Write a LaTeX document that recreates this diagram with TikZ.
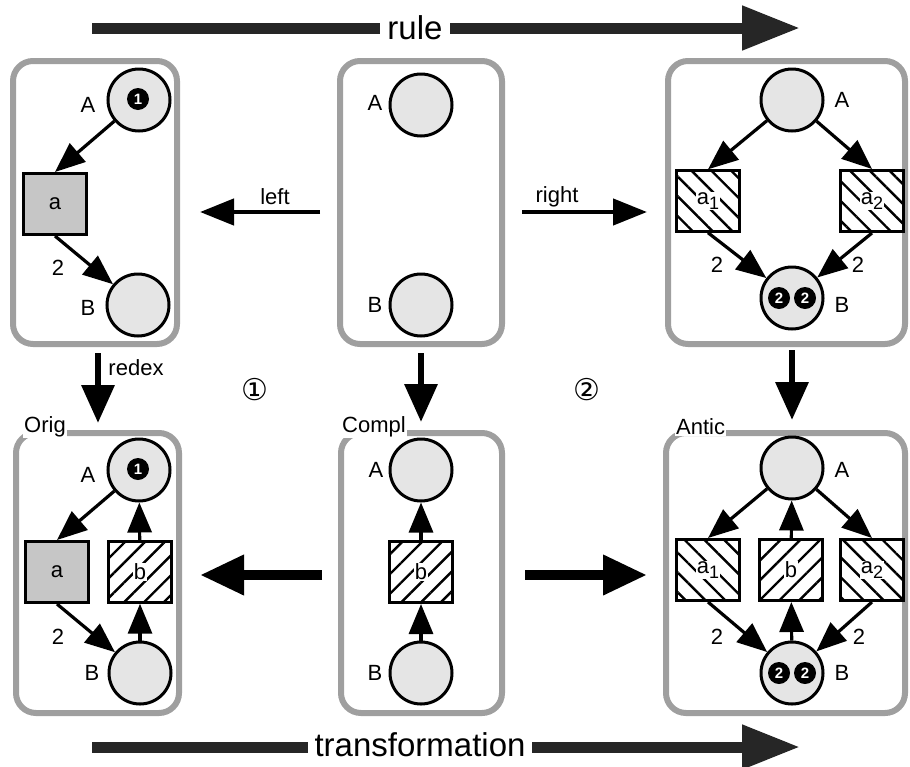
\documentclass[tikz,border=0pt]{standalone}
\usepackage{fontspec}
\setmainfont{Liberation Sans}
\newfontfamily\symfont{DejaVu Sans}
\usetikzlibrary{arrows.meta,patterns.meta}
\newcommand\subidx[1]{\raisebox{-5pt}{\fontsize{18}{18}\selectfont #1}}

\begin{document}
\begin{tikzpicture}[x=1pt,y=-1pt,
  every node/.style={font=\fontsize{22}{22}\selectfont},
  panel/.style={draw=gray!75, line width=6pt, rounded corners=20pt, inner sep=0pt, outer sep=0pt},
  place/.style={circle, draw, line width=3pt, fill=gray!20, minimum size=62pt, inner sep=0pt},
  trans/.style={rectangle, draw, line width=3pt, minimum width=63pt, minimum height=61pt, inner sep=0pt},
  plaintrans/.style={trans, fill=gray!45},
  hatchdown/.style={trans, pattern={Lines[angle=-45,distance=14pt,line width=2.4pt]}},
  hatchup/.style={trans, pattern={Lines[angle=45,distance=14pt,line width=2.4pt]}},
  translbl/.style={fill=white, inner sep=1pt},
  tok/.style={circle, fill=black, inner sep=0pt, minimum size=22pt, text=white,
    font=\fontsize{15}{15}\selectfont\bfseries},
  pnarc/.style={line width=3.2pt, -{Triangle[length=30pt,width=24pt]}},
  flow/.style={line width=4.5pt, -{Triangle[length=34pt,width=26pt]}},
  down/.style={line width=6.5pt, -{Triangle[length=38pt,width=32pt]}},
  bigflow/.style={line width=10pt, -{Triangle[length=44pt,width=38pt]}},
  banner/.style={draw=black!85, line width=11pt, -{Triangle[length=58pt,width=42pt]}},
  bannertext/.style={fill=white, inner xsep=7pt, inner ysep=0pt, font=\fontsize{33}{33}\selectfont},
  tag/.style={fill=white, inner sep=1pt, anchor=west},
  circled/.style={font=\symfont\fontsize{30}{30}\selectfont}
]
\useasboundingbox (0,0) rectangle (910,766);

% ---------- rule arrow ----------
\coordinate (ruleS) at (92,28);
\coordinate (ruleE) at (800,28);
\draw[banner] (ruleS) -- (ruleE);
\node[bannertext] (ruleT) at (415,28) {rule};

% ---------- panels ----------
\node[panel, minimum width=164pt, minimum height=283pt] (tlBox) at (95,202.5) {};
\node[panel, minimum width=162pt, minimum height=283pt] (tmBox) at (421,202.5) {};
\node[panel, minimum width=237pt, minimum height=283pt] (trBox) at (786.5,202.5) {};
\node[panel, minimum width=163pt, minimum height=280pt] (blBox) at (97.5,573) {};
\node[panel, minimum width=161pt, minimum height=280pt] (bmBox) at (421.5,573) {};
\node[panel, minimum width=239pt, minimum height=280pt] (brBox) at (785.5,573) {};

\node[tag] (origT) at (23,427) {Orig};
\node[tag] (complT) at (341,427) {Compl};
\node[tag] (anticT) at (675,427) {Antic};

% ---------- left-hand side of the rule ----------
\node[place] (tlA) at (139,100) {};
\node[tok] (tlTok) at (138,99) {1};
\node (tlAl) at (88,105) {A};
\node[plaintrans] (tla) at (55,204) {a};
\node[place] (tlB) at (138,305) {};
\node (tlBl) at (88,308) {B};
\node (tl2) at (58,268) {2};
\draw[pnarc] (tlA) -- (tla.north);
\draw[pnarc] (tla.south) -- (tlB);

% ---------- interface ----------
\node[place] (tmA) at (421,105) {};
\node (tmAl) at (375,103) {A};
\node[place] (tmB) at (421,305) {};
\node (tmBl) at (375,305) {B};

% ---------- right-hand side of the rule ----------
\node[place] (trA) at (792,100) {};
\node (trAl) at (842,100) {A};
\node[hatchdown] (tra1) at (708,201) {};
\node[translbl] (tra1l) at (tra1) {a\subidx{1}};
\node[hatchdown] (tra2) at (872,201) {};
\node[translbl] (tra2l) at (tra2) {a\subidx{2}};
\node[place] (trB) at (792,298) {};
\node[tok] (trTok1) at (779,298) {2};
\node[tok] (trTok2) at (805,298) {2};
\node (trBl) at (842,305) {B};
\node (tr2a) at (717,265) {2};
\node (tr2b) at (858,265) {2};
\draw[pnarc] (trA) -- (tra1.north);
\draw[pnarc] (trA) -- (tra2.north);
\draw[pnarc] (tra1.south) -- (trB);
\draw[pnarc] (tra2.south) -- (trB);

% ---------- rule morphisms ----------
\draw[flow, shorten <=20pt, shorten >=23pt] ([yshift=-9.5pt]tmBox.west) -- ([yshift=-9.5pt]tlBox.east);
\node (leftT) at (275,197) {left};
\draw[flow, shorten <=20pt, shorten >=21pt] ([yshift=-9.5pt]tmBox.east) -- ([yshift=-9.5pt]trBox.west);
\node (rightT) at (557,197) {right};

% ---------- vertical morphisms ----------
\draw[down, shorten <=9pt, shorten >=10pt] ([xshift=3pt]tlBox.south) -- ([xshift=0.5pt]blBox.north);
\node (redexT) at (136,368) {redex};
\draw[down, shorten <=9pt, shorten >=11pt] (tmBox.south) -- ([xshift=-0.5pt]bmBox.north);
\draw[down, shorten <=6pt, shorten >=13pt] ([xshift=5.5pt]trBox.south) -- ([xshift=6.5pt]brBox.north);
\node[circled] (c1) at (255,390) {①};
\node[circled] (c2) at (587,390) {②};

% ---------- original net ----------
\node[place] (blA) at (139,470) {};
\node[tok] (blTok) at (138,469) {1};
\node (blAl) at (88,475) {A};
\node[plaintrans] (bla) at (57,572) {a};
\node[hatchup] (blb) at (140,572) {};
\node[translbl] (blbl) at (blb) {b};
\node[place] (blB) at (140,673) {};
\node (blBl) at (92,673) {B};
\node (bl2) at (58,637) {2};
\draw[pnarc] (blA) -- (bla.north);
\draw[pnarc] (bla.south) -- (blB);
\draw[pnarc] (blb) -- (blA);
\draw[pnarc] (blB) -- (blb);

% ---------- complement ----------
\node[place] (bmA) at (421,470) {};
\node (bmAl) at (376,470) {A};
\node[hatchup] (bmb) at (421,572) {};
\node[translbl] (bmbl) at (bmb) {b};
\node[place] (bmB) at (421,673) {};
\node (bmBl) at (375,673) {B};
\draw[pnarc] (bmb) -- (bmA);
\draw[pnarc] (bmB) -- (bmb);

% ---------- anticipated net ----------
\node[place] (brA) at (792,468) {};
\node (brAl) at (842,470) {A};
\node[hatchdown] (bra1) at (708,570) {};
\node[translbl] (bra1l) at (bra1) {a\subidx{1}};
\node[hatchup] (brb) at (791,570) {};
\node[translbl] (brbl) at (brb) {b};
\node[hatchdown] (bra2) at (872,570) {};
\node[translbl] (bra2l) at (bra2) {a\subidx{2}};
\node[place] (brB) at (792,673) {};
\node[tok] (brTok1) at (779,673) {2};
\node[tok] (brTok2) at (805,673) {2};
\node (brBl) at (842,673) {B};
\node (br2a) at (717,637) {2};
\node (br2b) at (859,637) {2};
\draw[pnarc] (brA) -- (bra1.north);
\draw[pnarc] (brA) -- (bra2.north);
\draw[pnarc] (brb) -- (brA);
\draw[pnarc] (bra1.south) -- (brB);
\draw[pnarc] (bra2.south) -- (brB);
\draw[pnarc] (brB) -- (brb);

% ---------- transformation morphisms ----------
\draw[bigflow, shorten <=19pt, shorten >=21pt] ([yshift=-2pt]bmBox.west) -- ([yshift=-2pt]blBox.east);
\draw[bigflow, shorten <=23pt, shorten >=19pt] ([yshift=-2pt]bmBox.east) -- ([yshift=-2pt]brBox.west);

% ---------- transformation arrow ----------
\coordinate (trfS) at (92,747);
\coordinate (trfE) at (800,747);
\draw[banner] (trfS) -- (trfE);
\node[bannertext] (trfT) at (420,745) {transformation};
\end{tikzpicture}
\end{document}
